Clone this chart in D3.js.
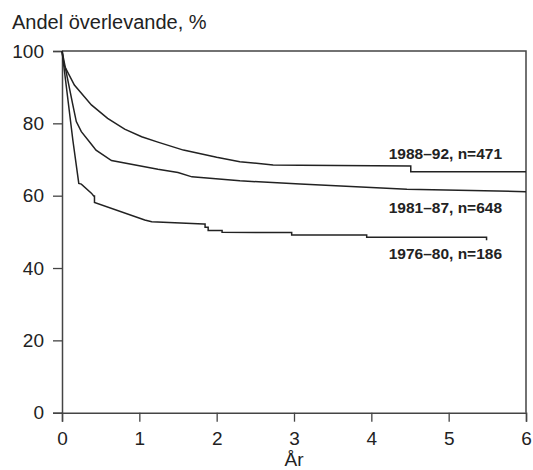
<!DOCTYPE html>
<html>
<head>
<meta charset="utf-8">
<script src="https://cdn.jsdelivr.net/npm/d3@7"></script>
<style>
  body { margin: 0; background: #fff; }
  text { font-family: "Liberation Sans", Arial, sans-serif; fill: #222; }
  .curveLabel { font-weight: bold; font-size: 15.5px; }
</style>
</head>
<body>
<div id="chart"></div>
<script>

// Data: [år, andel överlevande %]

var series_names = ["1988–92, n=471", "1981–87, n=648", "1976–80, n=186"];

var surv_1988_92 = [[0,100],[0.026,96.1],[0.16,90.6],[0.38,85.1],[0.59,81.4],[0.81,78.4],
    [1.03,76.3],[1.24,74.8],[1.57,72.6],[2.0,70.6],[2.3,69.4],[2.73,68.5],[3.08,68.4],
    [4.51,68.2],[4.51,66.6],[6,66.6]];

var surv_1981_87 = [[0,100],[0.07,92.5],[0.14,85.1],[0.185,80.5],[0.25,77.7],[0.38,74.2],
    [0.44,72.6],[0.64,69.7],[1.24,67.3],[1.50,66.4],[1.68,65.2],[2.3,64.1],[3.08,63.2],
    [4.46,61.8],[6,61.1]];

var surv_1976_80 = [[0,100],[0.14,75.4],[0.217,63.4],[0.25,63.2],[0.38,60.7],[0.41,59.9],
    [0.42,59.9],[0.42,58.1],[1.07,53.3],[1.16,52.8],[1.83,52.2],[1.85,52.2],[1.85,51.3],
    [1.89,51.3],[1.89,50.4],[2.07,50.4],[2.07,49.9],[2.97,49.8],[2.97,49.1],[3.94,49.1],
    [3.94,48.5],[5.49,48.5],[5.49,47.7]];

// label position in data units (right end, baseline)
var label_x = [5.69, 5.69, 5.69];
var label_y = [70.1, 55.1, 42.4];

var x_ticks = [0,1,2,3,4,5,6];
var y_ticks = [0,20,40,60,80,100];


var viz = {};

viz.survival = function(options)
{
    var self = {};

    for (key in options){
        self[key] = options[key];
    }

    self.parent_select = "#"+self.id_name;

    self.init = function(){

        // svg init

        self.svg = d3.select(self.parent_select).append("svg")
            .attr("width",self.width)
            .attr("height",self.height);

        self.x = d3.scaleLinear().domain([0,6]).range([62,526]);
        self.y = d3.scaleLinear().domain([0,100]).range([412.7,51]);
    };

    self.render = function(data)
    {
        var x = self.x, y = self.y;

        // frame (top + right)

        self.svg.append("path")
            .attr("d", "M" + x(0) + "," + y(100) + "H" + x(6) + "V" + y(0))
            .attr("fill","none")
            .attr("stroke","#444")
            .attr("stroke-width",1.5);

        // axes

        var xAxis = self.svg.append("g")
            .attr("transform","translate(0,"+y(0)+")")
            .call(d3.axisBottom(x).tickValues(x_ticks).tickSize(9).tickPadding(5).tickFormat(d3.format("d")));

        var yAxis = self.svg.append("g")
            .attr("transform","translate("+x(0)+",0)")
            .call(d3.axisLeft(y).tickValues(y_ticks).tickSize(9).tickPadding(9).tickFormat(d3.format("d")));

        [xAxis, yAxis].forEach(function(ax){
            ax.select(".domain").attr("stroke","#444").attr("stroke-width",1.5);
            ax.selectAll(".tick line").attr("stroke","#444").attr("stroke-width",1.3);
            ax.selectAll(".tick text")
                .attr("fill","#222")
                .style("font-family","\"Liberation Sans\", Arial, sans-serif")
                .style("font-size","19px");
        });
        xAxis.selectAll(".tick text").attr("dy","0.95em");

        // curves

        var line = d3.line()
            .x(function(d){ return x(d[0]); })
            .y(function(d){ return y(d[1]); });

        self.svg.selectAll(".curve")
            .data(data)
            .enter().append("path")
            .attr("class","curve")
            .attr("d", line)
            .attr("fill","none")
            .attr("stroke","#222")
            .attr("stroke-width",1.5)
            .attr("stroke-linejoin","miter");

        // labels

        self.svg.selectAll(".curveLabel")
            .data(series_names)
            .enter().append("text")
            .attr("class","curveLabel")
            .attr("text-anchor","end")
            .attr("x", function(d,i){ return x(label_x[i]); })
            .attr("y", function(d,i){ return y(label_y[i]); })
            .text(function(d){ return d; });

        // titles

        self.svg.append("text")
            .attr("x",12)
            .attr("y",29)
            .style("font-size","20px")
            .text("Andel överlevande, %");

        self.svg.append("text")
            .attr("text-anchor","middle")
            .attr("x",(x(0)+x(6))/2)
            .attr("y",466)
            .style("font-size","19px")
            .text("År");
    };

    self.init();

    return self;
};

var chart = viz.survival({'id_name':'chart', 'width':533, 'height':470});
chart.render([surv_1988_92, surv_1981_87, surv_1976_80]);

</script>
</body>
</html>
